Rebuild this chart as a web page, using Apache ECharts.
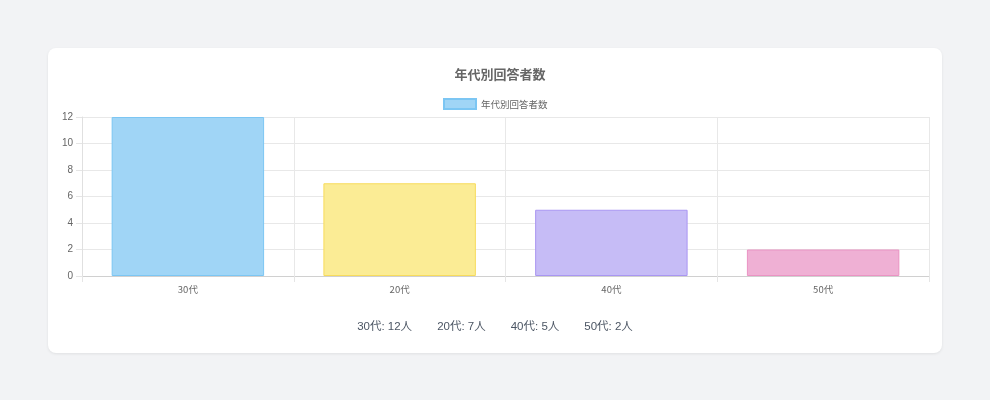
<!DOCTYPE html>
<html>
<head>
<meta charset="utf-8">
<script src="https://cdn.jsdelivr.net/npm/echarts@6/dist/echarts.min.js"></script>
<style>
  html, body { margin: 0; padding: 0; background: #f2f3f5; }
  body { width: 990px; height: 400px; position: relative; overflow: hidden;
    font-family: "Liberation Sans", "Noto Sans CJK JP", sans-serif; }
  .card { position: absolute; left: 48px; top: 48px; width: 894px; height: 305px;
    background: #fff; border-radius: 8px; box-shadow: 0 1px 3px rgba(0,0,0,0.08); }
  #chart { position: absolute; left: 0; top: 0; width: 990px; height: 400px; }
  .summary { position: absolute; left: 48px; width: 894px; top: 317px; text-align: center;
    font-size: 11.5px; color: #4b5563; }
  .summary span { margin: 0 12.5px; }
</style>
</head>
<body>
<div class="card"></div>
<div id="chart"></div>
<div class="summary" id="summary"></div>
<script>
const seriesName = '年代別回答者数';
const categories = ['30代', '20代', '40代', '50代'];
const counts = [12, 7, 5, 2];
const fillColors = ['#a0d5f6', '#fbec95', '#c6bcf6', '#efb0d4'];
const borderColors = ['#7cc6f3', '#f8dc5c', '#a996f2', '#ea93c3'];

const chart = echarts.init(document.getElementById('chart'), null, { renderer: 'canvas' });

const option = {
  animation: false,
  title: {
    text: seriesName,
    left: 495,
    textAlign: 'center',
    top: 63,
    textStyle: { fontSize: 13, fontWeight: 'bold', color: '#666',
      fontFamily: 'Noto Sans CJK JP' }
  },
  legend: {
    data: [seriesName],
    top: 98,
    left: 443,
    padding: 0,
    itemWidth: 32,
    itemHeight: 10,
    itemGap: 5,
    icon: 'rect',
    textStyle: { fontSize: 9.5, color: '#666', fontFamily: 'Noto Sans CJK JP' }
  },
  grid: { left: 82, right: 61, top: 117, bottom: 124 },
  xAxis: {
    type: 'category',
    data: categories,
    axisLine: { lineStyle: { color: '#d0d0d0' } },
    axisTick: { show: true, length: 6, lineStyle: { color: '#e5e5e5' } },
    splitLine: { show: true, lineStyle: { color: '#e8e8e8' } },
    axisLabel: { fontSize: 9.5, color: '#666', margin: 9, fontFamily: 'Noto Sans CJK JP' }
  },
  yAxis: {
    type: 'value',
    min: 0,
    max: 12,
    interval: 2,
    axisLine: { show: true, lineStyle: { color: '#e0e0e0' } },
    axisTick: { show: true, length: 6, lineStyle: { color: '#e5e5e5' } },
    splitLine: { lineStyle: { color: '#e8e8e8' } },
    axisLabel: { fontSize: 10, color: '#666', margin: 9, fontFamily: 'Liberation Sans' }
  },
  series: [{
    name: seriesName,
    type: 'bar',
    barWidth: '72%',
    itemStyle: { color: fillColors[0], borderColor: borderColors[0], borderWidth: 1 },
    data: counts.map(function (v, i) {
      return { value: v, itemStyle: { color: fillColors[i], borderColor: borderColors[i], borderWidth: 1 } };
    })
  }]
};
chart.setOption(option);

document.getElementById('summary').innerHTML = categories.map(function (c, i) {
  return '<span>' + c + ': ' + counts[i] + '人</span>';
}).join('');
</script>
</body>
</html>
